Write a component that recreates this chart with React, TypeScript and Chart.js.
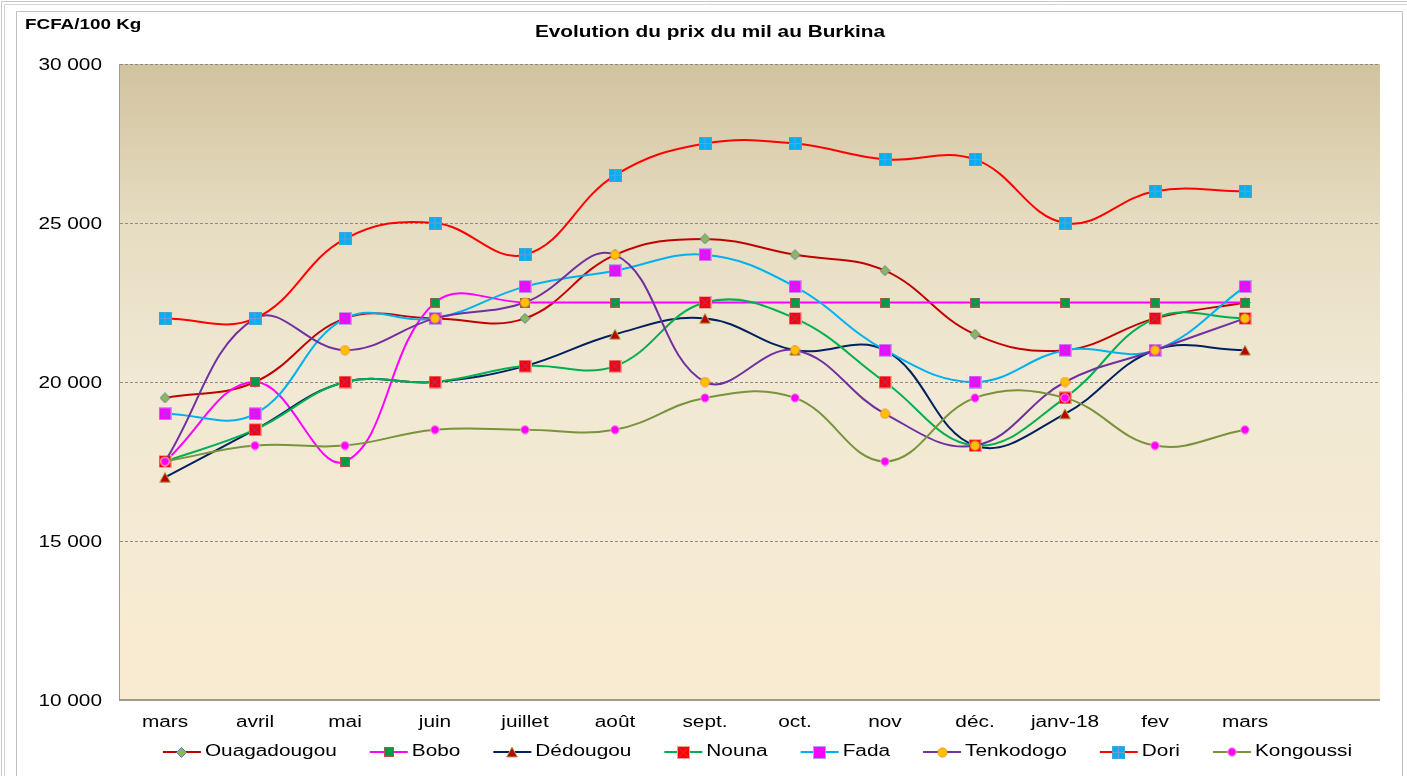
import React, { useEffect, useRef } from "react";
import { Chart, registerables } from "chart.js";
Chart.register(...registerables);

const categories = ["mars", "avril", "mai", "juin", "juillet", "août", "sept.", "oct.", "nov", "déc.", "janv-18", "fev", "mars", ""];
const seriesNames = ["Ouagadougou", "Bobo", "Dédougou", "Nouna", "Fada", "Tenkodogo", "Dori", "Kongoussi"];
const ouagadougou = [19500, 20000, 22000, 22000, 22000, 24000, 24500, 24000, 23500, 21500, 21000, 22000, 22500];
const bobo = [17500, 20000, 17500, 22500, 22500, 22500, 22500, 22500, 22500, 22500, 22500, 22500, 22500];
const dedougou = [17000, 18500, 20000, 20000, 20500, 21500, 22000, 21000, 21000, 18000, 19000, 21000, 21000];
const nouna = [17500, 18500, 20000, 20000, 20500, 20500, 22500, 22000, 20000, 18000, 19500, 22000, 22000];
const fada = [19000, 19000, 22000, 22000, 23000, 23500, 24000, 23000, 21000, 20000, 21000, 21000, 23000];
const tenkodogo = [17500, 22000, 21000, 22000, 22500, 24000, 20000, 21000, 19000, 18000, 20000, 21000, 22000];
const dori = [22000, 22000, 24500, 25000, 24000, 26500, 27500, 27500, 27000, 27000, 25000, 26000, 26000];
const kongoussi = [17500, 18000, 18000, 18500, 18500, 18500, 19500, 19500, 17500, 19500, 19500, 18000, 18500];
const yTicks = [10000, 15000, 20000, 25000, 30000];
const chartTitle = "Evolution du prix du mil au Burkina";
const unitLabel = "FCFA/100 Kg";

const seriesData = [ouagadougou, bobo, dedougou, nouna, fada, tenkodogo, dori, kongoussi];
const lineColors = ["#C00000", "#FF00FF", "#002060", "#00B050", "#00B0F0", "#7030A0", "#FF0000", "#77933C"];

const FONT = "'Liberation Sans', Arial, sans-serif";
const SX = 1.3;

function mk(size: number, draw: (c: CanvasRenderingContext2D) => void) {
  const cv = document.createElement("canvas");
  cv.width = size;
  cv.height = size;
  const c = cv.getContext("2d")!;
  draw(c);
  return cv;
}

function makeMarkers() {
  const diamond = mk(11, (c) => {
    c.beginPath();
    c.moveTo(5.5, 0.5); c.lineTo(10.5, 5.5); c.lineTo(5.5, 10.5); c.lineTo(0.5, 5.5); c.closePath();
    c.fillStyle = "#8DB858"; c.fill();
    c.strokeStyle = "#5B7FA8"; c.lineWidth = 1; c.stroke();
  });
  const greenSq = mk(10, (c) => {
    c.fillStyle = "#009A48"; c.fillRect(0, 0, 10, 10);
    c.strokeStyle = "#C0504D"; c.lineWidth = 1; c.strokeRect(0.5, 0.5, 9, 9);
  });
  const tri = mk(12, (c) => {
    c.beginPath();
    c.moveTo(6, 1); c.lineTo(11.5, 11); c.lineTo(0.5, 11); c.closePath();
    c.fillStyle = "#C00000"; c.fill();
    c.strokeStyle = "#9BBB59"; c.lineWidth = 1; c.stroke();
  });
  const xSq = (fill: string, border: string, cross: string) =>
    mk(13, (c) => {
      c.fillStyle = fill; c.fillRect(0, 0, 13, 13);
      c.strokeStyle = border; c.lineWidth = 1; c.strokeRect(0.5, 0.5, 12, 12);
      c.strokeStyle = cross; c.beginPath();
      c.moveTo(2.5, 2.5); c.lineTo(10.5, 10.5); c.moveTo(10.5, 2.5); c.lineTo(2.5, 10.5); c.stroke();
    });
  const redX = xSq("#FF0000", "#F4A0A0", "#6A4FC8");
  const magX = xSq("#FF00FF", "#B8A0E8", "#4F6FD0");
  const orangeC = mk(11, (c) => {
    c.beginPath(); c.arc(5.5, 5.5, 4.6, 0, Math.PI * 2);
    c.fillStyle = "#FFC000"; c.fill();
    c.strokeStyle = "#F09030"; c.lineWidth = 1; c.stroke();
  });
  const blueP = mk(13, (c) => {
    c.fillStyle = "#00B0F0"; c.fillRect(0, 0, 13, 13);
    c.strokeStyle = "#3FA6DA"; c.lineWidth = 1; c.strokeRect(0.5, 0.5, 12, 12);
    c.strokeStyle = "#6D9ECF"; c.beginPath();
    c.moveTo(6.5, 0.5); c.lineTo(6.5, 12.5); c.moveTo(0.5, 6.5); c.lineTo(12.5, 6.5); c.stroke();
  });
  const pinkC = mk(10, (c) => {
    c.beginPath(); c.arc(5, 5, 4.2, 0, Math.PI * 2);
    c.fillStyle = "#FF00FF"; c.fill();
    c.strokeStyle = "#F8A0D8"; c.lineWidth = 1; c.stroke();
  });
  return [diamond, greenSq, tri, redX, magX, orangeC, blueP, pinkC];
}

function sText(ctx: CanvasRenderingContext2D, text: string, x: number, y: number, font: string, align: CanvasTextAlign) {
  ctx.save();
  ctx.font = font;
  ctx.fillStyle = "#000";
  ctx.textBaseline = "middle";
  ctx.textAlign = align;
  ctx.translate(x, y);
  ctx.scale(SX, 1);
  ctx.fillText(text, 0, 0);
  ctx.restore();
}

function fmt(n: number) {
  return String(n).replace(/\B(?=(\d{3})+(?!\d))/g, " ");
}

export default function App() {
  const ref = useRef<HTMLCanvasElement>(null);
  useEffect(() => {
    document.body.style.margin = "0";
    document.body.style.overflow = "hidden";
    const markers = makeMarkers();

    const decor = {
      id: "decor",
      beforeDraw(chart: any) {
        const ctx: CanvasRenderingContext2D = chart.ctx;
        const W = chart.width, H = chart.height;
        ctx.save();
        ctx.fillStyle = "#fff";
        ctx.fillRect(0, 0, W, H);
        ctx.lineWidth = 1;
        ctx.strokeStyle = "#C8C8C8";
        ctx.beginPath();
        ctx.moveTo(1.5, H); ctx.lineTo(1.5, 1.5); ctx.lineTo(W, 1.5);
        ctx.stroke();
        ctx.strokeStyle = "#D4D4D4";
        ctx.beginPath();
        ctx.moveTo(4.5, H); ctx.lineTo(4.5, 4.5); ctx.lineTo(W, 4.5);
        ctx.stroke();
        ctx.strokeStyle = "#C0C0C0";
        ctx.beginPath();
        ctx.moveTo(16.5, H); ctx.lineTo(16.5, 11.5); ctx.lineTo(1402.5, 11.5); ctx.lineTo(1402.5, H);
        ctx.stroke();
        ctx.restore();
      },
      beforeDatasetsDraw(chart: any) {
        const ctx: CanvasRenderingContext2D = chart.ctx;
        const a = chart.chartArea;
        const y = chart.scales.y;
        ctx.save();
        const g = ctx.createLinearGradient(0, a.top, 0, a.bottom);
        g.addColorStop(0, "#D2C39F");
        g.addColorStop(0.25, "#E6DCC1");
        g.addColorStop(0.5, "#F1E9D4");
        g.addColorStop(1, "#F9EBD1");
        ctx.fillStyle = g;
        ctx.fillRect(a.left, a.top, a.right - a.left, a.bottom - a.top);
        ctx.strokeStyle = "#8A8A8A";
        ctx.lineWidth = 1;
        ctx.setLineDash([3, 2]);
        for (const t of yTicks) {
          if (t === yTicks[0]) continue;
          const py = Math.round(y.getPixelForValue(t)) + 0.5;
          ctx.beginPath();
          ctx.moveTo(a.left, py);
          ctx.lineTo(a.right, py);
          ctx.stroke();
        }
        ctx.setLineDash([]);
        ctx.strokeStyle = "#A09A8C";
        ctx.lineWidth = 2;
        ctx.beginPath();
        ctx.moveTo(a.left - 1, a.bottom);
        ctx.lineTo(a.right, a.bottom);
        ctx.stroke();
        ctx.strokeStyle = "#9A9A9A";
        ctx.lineWidth = 1;
        ctx.beginPath();
        ctx.moveTo(a.left - 0.5, a.top);
        ctx.lineTo(a.left - 0.5, a.bottom);
        ctx.stroke();
        ctx.restore();
      },
      afterDraw(chart: any) {
        const ctx: CanvasRenderingContext2D = chart.ctx;
        const x = chart.scales.x;
        const y = chart.scales.y;
        sText(ctx, unitLabel, 25, 25, `bold 14.5px ${FONT}`, "left");
        sText(ctx, chartTitle, 710, 33, `bold 16px ${FONT}`, "center");
        for (const t of yTicks) {
          sText(ctx, fmt(t), 102, y.getPixelForValue(t) + 2, `16px ${FONT}`, "right");
        }
        categories.forEach((c, i) => {
          if (c) sText(ctx, c, x.getPixelForValue(i), 723, `16px ${FONT}`, "center");
        });
        // legend
        const lf = `16px ${FONT}`;
        ctx.save();
        ctx.font = lf;
        const widths = seriesNames.map((n) => ctx.measureText(n).width * SX);
        ctx.restore();
        const gap = 33;
        const total = widths.reduce((s, w) => s + w + 42, 0) + gap * (seriesNames.length - 1);
        let lx = 757.5 - total / 2;
        const ly = 752;
        seriesNames.forEach((n, i) => {
          ctx.save();
          ctx.strokeStyle = lineColors[i];
          ctx.lineWidth = 2;
          ctx.beginPath();
          ctx.moveTo(lx, ly);
          ctx.lineTo(lx + 38, ly);
          ctx.stroke();
          const m = markers[i];
          ctx.drawImage(m, Math.round(lx + 19 - m.width / 2), Math.round(ly - m.height / 2));
          ctx.restore();
          sText(ctx, n, lx + 42, ly, lf, "left");
          lx += 42 + widths[i] + gap;
        });
      },
    };

    const chart = new Chart(ref.current!, {
      type: "line",
      data: {
        labels: categories,
        datasets: seriesNames.map((name, i) => ({
          label: name,
          data: seriesData[i],
          borderColor: lineColors[i],
          backgroundColor: lineColors[i],
          borderWidth: 2,
          tension: 0.4,
          fill: false,
          pointStyle: markers[i] as any,
          pointRadius: 6,
          pointHoverRadius: 6,
          order: seriesNames.length - i,
        })),
      },
      options: {
        animation: false,
        responsive: false,
        events: [],
        layout: { padding: { left: 120, right: 27, top: 64, bottom: 76 } },
        plugins: {
          legend: { display: false },
          title: { display: false },
          tooltip: { enabled: false },
        },
        scales: {
          x: { display: false, offset: true },
          y: { display: false, min: 10000, max: 30000 },
        },
      },
      plugins: [decor],
    });
    return () => chart.destroy();
  }, []);
  return (
    <div style={{ width: 1407, height: 776, position: "relative" }}>
      <canvas ref={ref} width={1407} height={776} style={{ width: 1407, height: 776, display: "block" }} />
    </div>
  );
}
